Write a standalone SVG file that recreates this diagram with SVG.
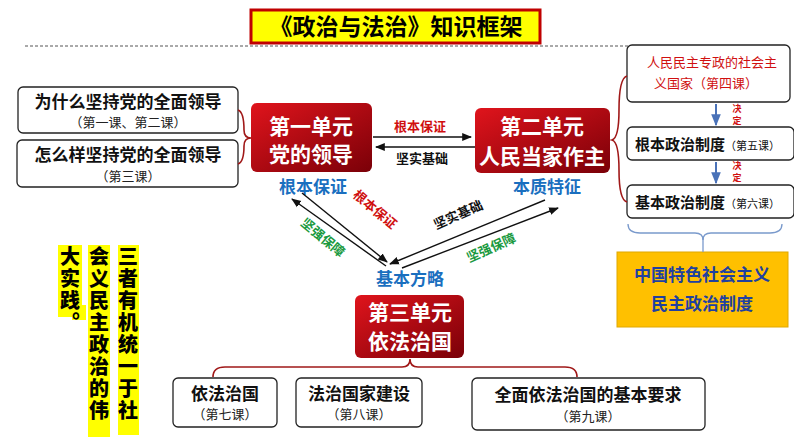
<svg xmlns="http://www.w3.org/2000/svg" width="794" height="447" viewBox="0 0 794 447">
<style>
text{font-family:"Noto Sans CJK SC","Liberation Sans",sans-serif;}
.wb{fill:#fff;stroke:#222;stroke-width:1.3;}
.big{font-size:17px;font-weight:bold;fill:#111;text-anchor:middle;}
.sm{font-size:13px;fill:#222;text-anchor:middle;}
.unit{font-size:21px;font-weight:bold;fill:#fff;text-anchor:middle;}
.blue{font-size:17px;font-weight:bold;fill:#1a6fbf;text-anchor:middle;}
.br{fill:none;stroke:#a01818;stroke-width:1.6;}
.ln{stroke:#111;stroke-width:1.4;fill:none;}
.lab{font-size:13px;font-weight:bold;text-anchor:middle;}
.vt{font-size:20px;font-weight:900;fill:#000;writing-mode:tb;letter-spacing:2px;}
.jd{font-size:9px;font-weight:bold;fill:#d01010;text-anchor:middle;}
</style>
<defs>
<linearGradient id="rg" x1="0" y1="0" x2="1" y2="1"><stop offset="0" stop-color="#e0141c"/><stop offset="1" stop-color="#7a0008"/></linearGradient>
<marker id="ah" viewBox="0 0 10 10" refX="9" refY="5" markerWidth="7" markerHeight="7" orient="auto-start-reverse"><path d="M0,1 L10,5 L0,9 z" fill="#111"/></marker>
<marker id="bh" viewBox="0 0 10 10" refX="9" refY="5" markerWidth="6" markerHeight="6" orient="auto"><path d="M0,1 L10,5 L0,9 z" fill="#4a72b8"/></marker>
</defs>
<g id="title">
<rect x="251" y="10" width="289" height="33" fill="#ffff00" stroke="#c00000" stroke-width="3"/>
<text x="396" y="35" font-size="23" font-weight="bold" text-anchor="middle" fill="#000">《政治与法治》知识框架</text>
<line x1="25" y1="46" x2="770" y2="46" stroke="#555" stroke-dasharray="3,2"/>
</g>
<g id="q1"><rect class="wb" x="18" y="87" width="220" height="46" rx="5"/><text class="big" x="128" y="108">为什么坚持党的全面领导</text><text class="sm" x="128" y="127">（第一课、第二课）</text></g>
<g id="q2"><rect class="wb" x="17" y="140" width="221" height="47" rx="5"/><text class="big" x="128" y="161">怎么样坚持党的全面领导</text><text class="sm" x="128" y="181">（第三课）</text></g>
<g id="unit1"><rect x="251" y="103" width="121" height="69" rx="6" fill="url(#rg)"/><text class="unit" x="311" y="134">第一单元</text><text class="unit" x="311" y="162">党的领导</text><text class="blue" x="313" y="193">根本保证</text></g>
<g id="unit2"><rect x="475" y="108" width="135" height="65" rx="6" fill="url(#rg)"/><text class="unit" x="542" y="134" font-size="19">第二单元</text><text class="unit" x="542" y="164" font-size="19">人民当家作主</text><text class="blue" x="547" y="193">本质特征</text></g>
<g id="unit3"><rect x="355" y="295" width="109" height="63" rx="6" fill="url(#rg)"/><text class="unit" x="410" y="320" font-size="19">第三单元</text><text class="unit" x="410" y="349" font-size="19">依法治国</text><text class="blue" x="410" y="285">基本方略</text></g>
<g id="r1"><rect class="wb" x="627" y="45" width="163" height="57" rx="5" stroke="#777"/><text x="712" y="67" font-size="13" fill="#d01010" text-anchor="middle">人民民主专政的社会主</text><text x="706" y="88" font-size="13" fill="#d01010" text-anchor="middle">义国家（第四课）</text></g>
<g id="r2"><rect class="wb" x="627" y="127" width="167" height="33" rx="5"/><text x="635" y="150" font-size="15" font-weight="bold" fill="#111">根本政治制度<tspan font-size="11" font-weight="normal">（第五课）</tspan></text></g>
<g id="r3"><rect class="wb" x="627" y="185" width="167" height="33" rx="5"/><text x="635" y="208" font-size="15" font-weight="bold" fill="#111">基本政治制度<tspan font-size="11" font-weight="normal">（第六课）</tspan></text></g>
<g id="sys"><rect x="617" y="252" width="171" height="75" fill="#ffc000" stroke="#e0a800"/><text x="702" y="281" font-size="17" font-weight="bold" fill="#2040a0" text-anchor="middle">中国特色社会主义</text><text x="702" y="310" font-size="17" font-weight="bold" fill="#2040a0" text-anchor="middle">民主政治制度</text></g>
<g id="b1"><rect class="wb" x="173" y="378" width="104" height="49" rx="5"/><text class="big" x="225" y="400">依法治国</text><text class="sm" x="225" y="419">（第七课）</text></g>
<g id="b2"><rect class="wb" x="296" y="378" width="126" height="49" rx="5"/><text class="big" x="359" y="400">法治国家建设</text><text class="sm" x="359" y="419">（第八课）</text></g>
<g id="b3"><rect class="wb" x="472" y="378" width="233" height="52" rx="5"/><text class="big" x="588" y="401">全面依法治国的基本要求</text><text class="sm" x="588" y="421">（第九课）</text></g>
<g id="summary">
<rect x="118" y="245" width="21" height="190" fill="#ffff00"/>
<rect x="88" y="245" width="22" height="192" fill="#ffff00"/>
<rect x="58" y="245" width="24" height="72" fill="#ffff00"/>
<rect x="72" y="305" width="14" height="15" fill="#ffff00"/>
<text class="vt" x="128" y="246">三者有机统一于社</text>
<text class="vt" x="99" y="246">会义民主政治的伟</text>
<text class="vt" x="70" y="246">大实践。</text>
</g>
<g id="connectors">
<path class="br" d="M238,110 Q244,112 244,130 Q244,138 251,138 Q244,138 244,146 Q244,162 238,164"/>
<path class="br" d="M627,76 Q619,78 619,110 Q619,138 612,140 Q619,142 619,170 Q619,200 627,202"/>
<path d="M628,224 Q628,233 640,233 L695,233 Q703,233 703,240 Q703,233 711,233 L770,233 Q782,233 782,224" fill="none" stroke="#7a9acc" stroke-width="1.3"/>
<line x1="703" y1="238" x2="703" y2="252" stroke="#7a9acc" stroke-width="1.3"/>
<path class="br" d="M213,377 Q213,367 225,367 L402,367 Q410,367 410,359 Q410,367 418,367 L565,367 Q577,367 577,377"/>
<line x1="716" y1="104" x2="716" y2="125" stroke="#4a72b8" stroke-width="2" marker-end="url(#bh)"/>
<line x1="716" y1="162" x2="716" y2="183" stroke="#4a72b8" stroke-width="2" marker-end="url(#bh)"/>
<text class="jd" x="737" y="112">决</text>
<text class="jd" x="737" y="124">定</text>
<text class="jd" x="737" y="169">决</text>
<text class="jd" x="737" y="181">定</text>
<line class="ln" x1="373" y1="137" x2="471" y2="137" marker-end="url(#ah)"/>
<line class="ln" x1="475" y1="147" x2="376" y2="147" marker-end="url(#ah)"/>
<text class="lab" x="420" y="131" fill="#d01010">根本保证</text>
<text class="lab" x="422" y="163" fill="#111">坚实基础</text>
<line class="ln" x1="386" y1="266" x2="292" y2="199" marker-end="url(#ah)"/>
<line class="ln" x1="302" y1="193" x2="387" y2="262" marker-end="url(#ah)"/>
<line class="ln" x1="545" y1="200" x2="390" y2="264" marker-end="url(#ah)"/>
<line class="ln" x1="402" y1="268" x2="558" y2="208" marker-end="url(#ah)"/>
<text class="lab" fill="#d01010" transform="translate(372,213) rotate(40)">根本保证</text>
<text class="lab" fill="#1a9a40" transform="translate(320,241) rotate(40)">坚强保障</text>
<text class="lab" fill="#111" transform="translate(460,219) rotate(-24)">坚实基础</text>
<text class="lab" fill="#1a9a40" transform="translate(493,252) rotate(-24)">坚强保障</text>
</g>
</svg>
